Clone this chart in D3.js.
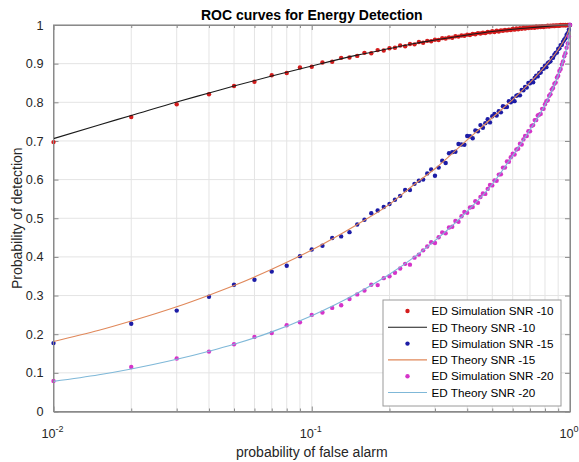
<!DOCTYPE html>
<html><head><meta charset="utf-8">
<script src="https://cdn.jsdelivr.net/npm/d3@7"></script>
<style>body{margin:0;background:#fff} svg{display:block;font-family:"Liberation Sans",Arial,sans-serif}</style>
</head><body><svg id="c" width="579" height="462"></svg>
<script>
const pfSim = [0.01,0.02,0.03,0.04,0.05,0.06,0.07,0.08,0.09,0.10,0.11,0.12,0.13,0.14,0.15,0.16,0.17,0.18,0.19,0.20,
0.21,0.22,0.23,0.24,0.25,0.26,0.27,0.28,0.29,0.30,0.31,0.32,0.33,0.34,0.35,0.36,0.37,0.38,0.39,0.40,
0.41,0.42,0.43,0.44,0.45,0.46,0.47,0.48,0.49,0.50,0.51,0.52,0.53,0.54,0.55,0.56,0.57,0.58,0.59,0.60,
0.61,0.62,0.63,0.64,0.65,0.66,0.67,0.68,0.69,0.70,0.71,0.72,0.73,0.74,0.75,0.76,0.77,0.78,0.79,0.80,
0.81,0.82,0.83,0.84,0.85,0.86,0.87,0.88,0.89,0.90,0.91,0.92,0.93,0.94,0.95,0.96,0.97,0.98,0.99,1.00];
const simSNR10 = [0.697,0.762,0.795,0.821,0.842,0.853,0.870,0.876,0.890,0.892,0.903,0.905,0.915,0.916,0.920,0.928,0.927,0.935,0.934,0.940,
0.941,0.947,0.945,0.951,0.950,0.956,0.954,0.959,0.958,0.962,0.961,0.966,0.965,0.968,0.967,0.971,0.970,0.973,0.972,0.975,
0.974,0.977,0.976,0.979,0.978,0.980,0.979,0.982,0.981,0.984,0.982,0.985,0.983,0.986,0.985,0.987,0.986,0.988,0.987,0.990,
0.988,0.991,0.989,0.992,0.990,0.993,0.991,0.993,0.992,0.994,0.993,0.995,0.993,0.996,0.994,0.996,0.995,0.997,0.995,0.997,
0.996,0.998,0.996,0.998,0.997,0.999,0.997,0.999,0.998,0.999,0.998,1.000,0.999,1.000,0.999,1.000,0.999,1.000,1.000,1.000];
const simSNR15 = [0.177,0.227,0.261,0.297,0.328,0.341,0.362,0.377,0.402,0.419,0.429,0.449,0.453,0.464,0.484,0.496,0.513,0.520,0.529,0.537,
0.548,0.558,0.573,0.573,0.589,0.597,0.600,0.616,0.626,0.610,0.631,0.649,0.643,0.668,0.671,0.672,0.692,0.691,0.690,0.713,
0.712,0.707,0.727,0.725,0.741,0.734,0.746,0.756,0.748,0.764,0.770,0.766,0.777,0.774,0.790,0.788,0.788,0.803,0.800,0.810,
0.803,0.817,0.819,0.818,0.832,0.831,0.840,0.838,0.850,0.849,0.855,0.852,0.863,0.869,0.867,0.876,0.877,0.886,0.887,0.895,
0.891,0.901,0.904,0.906,0.915,0.915,0.923,0.928,0.929,0.938,0.940,0.948,0.949,0.957,0.962,0.966,0.974,0.979,0.988,1.000];
const simSNR20 = [0.079,0.115,0.137,0.155,0.174,0.193,0.203,0.223,0.231,0.250,0.256,0.268,0.275,0.291,0.303,0.313,0.328,0.327,0.345,0.350,
0.359,0.370,0.382,0.380,0.398,0.406,0.417,0.427,0.438,0.436,0.451,0.463,0.461,0.476,0.478,0.493,0.491,0.505,0.516,0.514,
0.528,0.529,0.544,0.540,0.555,0.564,0.563,0.576,0.586,0.585,0.598,0.597,0.613,0.614,0.631,0.631,0.647,0.646,0.658,0.667,
0.665,0.678,0.680,0.693,0.691,0.704,0.713,0.713,0.725,0.725,0.739,0.741,0.754,0.754,0.766,0.768,0.770,0.783,0.783,0.795,
0.803,0.805,0.817,0.821,0.833,0.837,0.848,0.851,0.864,0.869,0.881,0.886,0.898,0.906,0.919,0.927,0.941,0.952,0.970,1.000];

const pfTheory = [0.01,0.015,0.02,0.03,0.04,0.05,0.07,0.1,0.15,0.2,0.25,0.3,0.4,0.5,0.6,0.7,0.8,0.9,0.95,0.98,0.99,1.0];
const theorySNR10 = [0.706,0.7415,0.766,0.801,0.824,0.842,0.868,0.894,0.922,0.939,0.952,0.961,0.974,0.983,0.989,0.993,0.996,0.9986,0.9994,0.9998,0.9999,1.0];
const theorySNR15 = [0.181,0.210,0.234,0.271,0.301,0.326,0.368,0.418,0.484,0.536,0.588,0.628,0.703,0.760,0.807,0.851,0.893,0.936,0.961,0.979,0.987,1.0];
const theorySNR20 = [0.078,0.095,0.110,0.135,0.156,0.174,0.206,0.248,0.306,0.355,0.400,0.442,0.518,0.588,0.662,0.729,0.793,0.870,0.917,0.953,0.969,1.0];

const yTicks = [0,0.1,0.2,0.3,0.4,0.5,0.6,0.7,0.8,0.9,1];
const yTickLabels = ["0","0.1","0.2","0.3","0.4","0.5","0.6","0.7","0.8","0.9","1"];
const xTicks = [0.01,0.1,1];
const xTickExp = ["-2","-1","0"];
const xMinor = [0.02,0.03,0.04,0.05,0.06,0.07,0.08,0.09,0.2,0.3,0.4,0.5,0.6,0.7,0.8,0.9];
const legendLabels = ["ED Simulation SNR -10","ED Theory SNR -10","ED Simulation SNR -15","ED Theory SNR -15","ED Simulation SNR -20","ED Theory SNR -20"];
const titleText = "ROC curves for Energy Detection";
const xLabel = "probability of false alarm";
const yLabel = "Probability of detection";

const C = {sim10:"#d41c1c", th10:"#1a1a1a", sim15:"#1c1ca6", th15:"#e0885a", sim20:"#d534c9", th20:"#7fb8d8"};

const L = 53.5, R = 570, T = 25, B = 411.5;
const svg = d3.select("#c");
const x = d3.scaleLog().domain([0.01,1]).range([L,R]);
const y = d3.scaleLinear().domain([0,1]).range([B,T]);

// grid
const g = svg.append("g");
g.selectAll(".gy").data(yTicks).join("line")
  .attr("x1",L).attr("x2",R).attr("y1",d=>y(d)).attr("y2",d=>y(d))
  .attr("stroke","#e4e4e4").attr("stroke-width",1);
g.selectAll(".gx").data(xTicks.concat(xMinor)).join("line")
  .attr("y1",T).attr("y2",B).attr("x1",d=>x(d)).attr("x2",d=>x(d))
  .attr("stroke","#e4e4e4").attr("stroke-width",1);

// axes (ticks inside, box)
const axCol = "#8a8a8a";
function styleAxis(sel){ sel.select(".domain").attr("stroke",axCol); sel.selectAll(".tick line").attr("stroke",axCol); }
svg.append("g").attr("transform",`translate(0,${B})`)
  .call(d3.axisBottom(x).tickValues(xTicks).tickSizeInner(-5).tickSizeOuter(0).tickFormat(""))
  .call(styleAxis);
svg.append("g").attr("transform",`translate(0,${B})`)
  .call(d3.axisBottom(x).tickValues(xMinor).tickSizeInner(-3).tickSizeOuter(0).tickFormat(""))
  .call(styleAxis);
svg.append("g").attr("transform",`translate(0,${T})`)
  .call(d3.axisTop(x).tickValues(xTicks).tickSizeInner(-5).tickSizeOuter(0).tickFormat(""))
  .call(styleAxis);
svg.append("g").attr("transform",`translate(0,${T})`)
  .call(d3.axisTop(x).tickValues(xMinor).tickSizeInner(-3).tickSizeOuter(0).tickFormat(""))
  .call(styleAxis);
const yl = svg.append("g").attr("transform",`translate(${L},0)`)
  .call(d3.axisLeft(y).tickValues(yTicks).tickSizeInner(-5).tickSizeOuter(0).tickPadding(10).tickFormat((d,i)=>yTickLabels[i]))
  .call(styleAxis);
yl.selectAll("text").attr("font-size","12.7px").attr("fill","#262626").attr("font-family",'"Liberation Sans",Arial,sans-serif');
svg.append("g").attr("transform",`translate(${R},0)`)
  .call(d3.axisRight(y).tickValues(yTicks).tickSizeInner(-5).tickSizeOuter(0).tickFormat(""))
  .call(styleAxis);

// x tick labels 10^n
const xl = svg.append("g");
xTicks.forEach((d,i)=>{
  const t = xl.append("text").attr("x",x(d)-1).attr("y",438).attr("text-anchor","middle")
    .attr("font-size","12.7px").attr("fill","#262626");
  t.append("tspan").text("10");
  t.append("tspan").attr("dy",-6).attr("font-size","9px").text(xTickExp[i]);
});

// series
const pts = (xs,ys)=>xs.map((v,i)=>[v,ys[i]]);
const line = d3.line().x(d=>x(d[0])).y(d=>y(d[1])).curve(d3.curveMonotoneX);
function dots(data,col){
  svg.append("g").selectAll("circle").data(data).join("circle")
    .attr("cx",d=>x(d[0])).attr("cy",d=>y(d[1])).attr("r",2.2).attr("fill",col);
}
function path(data,col){
  svg.append("path").datum(data).attr("d",line).attr("fill","none").attr("stroke",col).attr("stroke-width",1.1);
}
dots(pts(pfSim,simSNR10),C.sim10);
path(pts(pfTheory,theorySNR10),C.th10);
dots(pts(pfSim,simSNR15),C.sim15);
path(pts(pfTheory,theorySNR15),C.th15);
dots(pts(pfSim,simSNR20),C.sim20);
path(pts(pfTheory,theorySNR20),C.th20);

// box
svg.append("rect").attr("x",L).attr("y",T).attr("width",R-L).attr("height",B-T)
  .attr("fill","none").attr("stroke",axCol).attr("stroke-width",1);

// title & labels
svg.append("text").attr("x",(L+R)/2).attr("y",20).attr("text-anchor","middle")
  .attr("font-size","14px").attr("font-weight","bold").attr("fill","#000").text(titleText);
svg.append("text").attr("x",(L+R)/2).attr("y",457).attr("text-anchor","middle")
  .attr("font-size","14px").attr("fill","#262626").text(xLabel);
svg.append("text").attr("transform",`translate(22,${(T+B)/2}) rotate(-90)`).attr("text-anchor","middle")
  .attr("font-size","14px").attr("fill","#262626").text(yLabel);

// legend
const lg = svg.append("g");
lg.append("rect").attr("x",383).attr("y",300).attr("width",178).attr("height",106)
  .attr("fill","#fff").attr("stroke","#9a9a9a").attr("stroke-width",1);
const legCols = [C.sim10,C.th10,C.sim15,C.th15,C.sim20,C.th20];
legendLabels.forEach((lab,i)=>{
  const cy = 311 + i*16.3;
  if(i%2===0){
    lg.append("circle").attr("cx",407.5).attr("cy",cy).attr("r",2.2).attr("fill",legCols[i]);
  } else {
    lg.append("line").attr("x1",388).attr("x2",427).attr("y1",cy).attr("y2",cy)
      .attr("stroke",legCols[i]).attr("stroke-width",1.1);
  }
  lg.append("text").attr("x",431.5).attr("y",cy+4.2).attr("font-size","11.7px").attr("fill","#000").text(lab);
});
</script></body></html>
